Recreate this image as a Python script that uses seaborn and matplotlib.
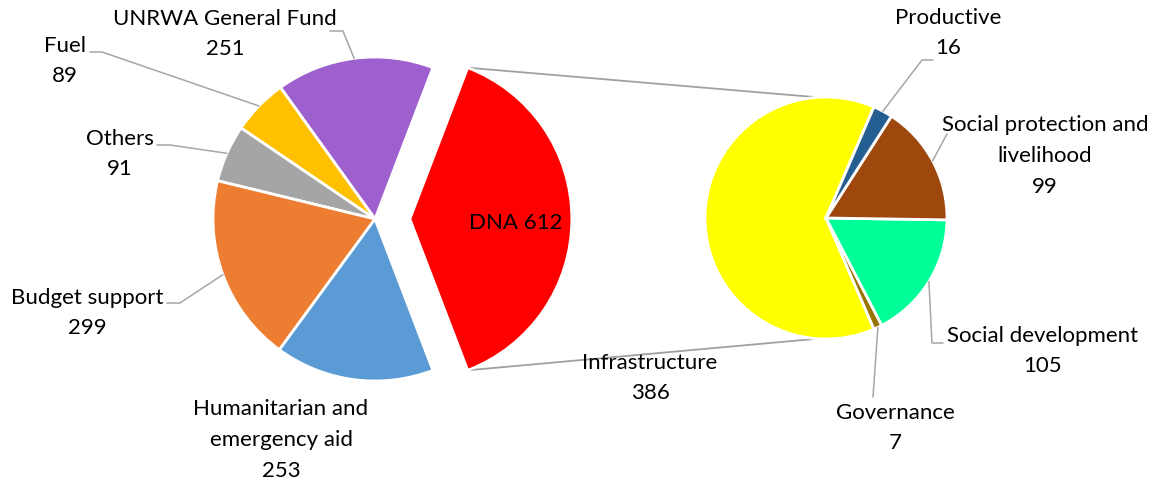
import numpy as np
import matplotlib
matplotlib.use("Agg")
import matplotlib.pyplot as plt
import seaborn as sns

# Funding by channel (main pie)
main_names = ["DNA", "UNRWA General Fund", "Fuel", "Others", "Budget support",
              "Humanitarian and\nemergency aid"]
main_values = [612, 251, 89, 91, 299, 253]
main_colors = ["#FF0000", "#9E60CE", "#FFC000", "#A5A5A5", "#ED7D31", "#5B9BD5"]

# Breakdown of the DNA slice (secondary pie)
dna_names = ["Infrastructure", "Governance", "Social development",
             "Social protection and\nlivelihood", "Productive"]
dna_values = [386, 7, 105, 99, 16]
dna_colors = ["#FFFF00", "#997300", "#00FF99", "#9E480E", "#255E91"]

W, H = 1172, 485
sns.set_theme(style="white")
plt.rcParams["font.family"] = ["Lato", "DejaVu Sans"]

fig = plt.figure(figsize=(W / 100, H / 100), dpi=100)
ax = fig.add_axes([0, 0, 1, 1])


def px(x, y):
    """Screen-style (y down) position to axes data coordinates."""
    return x, H - y


# geometry of the two pies
c1, r1 = px(375, 220), 162
c2, r2 = px(826, 219), 121
dna_offset = 0.215 * r1          # explode distance in data units

start1 = -360 * main_values[0] / sum(main_values) / 2
start2 = 180 - 360 * dna_values[0] / sum(dna_values) / 2

wprops = dict(edgecolor="white", linewidth=2)
ax.pie(main_values, colors=main_colors, startangle=start1, counterclock=True,
       center=c1, radius=r1, explode=[dna_offset] + [0] * 5,
       wedgeprops=wprops, frame=True)
ax.pie(dna_values, colors=dna_colors, startangle=start2, counterclock=True,
       center=c2, radius=r2, wedgeprops=wprops, frame=True)


def mid_angles(values, start):
    v = np.asarray(values, float)
    edges = start + 360 * np.concatenate([[0], np.cumsum(v)]) / v.sum()
    return edges, (edges[:-1] + edges[1:]) / 2


edges1, mids1 = mid_angles(main_values, start1)
edges2, mids2 = mid_angles(dna_values, start2)

# connector lines from the exploded DNA wedge to the secondary pie
apex = (c1[0] + dna_offset, c1[1])
line_col = "#A0A0A0"
for a_dna, a_sec in [(edges1[1], 94), (edges1[0], -94)]:
    p0 = (apex[0] + r1 * np.cos(np.radians(a_dna)), apex[1] + r1 * np.sin(np.radians(a_dna)))
    p1 = (c2[0] + r2 * np.cos(np.radians(a_sec)), c2[1] + r2 * np.sin(np.radians(a_sec)))
    ax.plot([p0[0], p1[0]], [p0[1], p1[1]], color=line_col, lw=1.3, zorder=0.5)

fs = 16
lead_col = "#A6A6A6"

# label layout: text centre, leader points on the label side
main_layout = [
    ((516, 223), None),
    ((225, 34), [(330, 32), (343, 32)]),
    ((65, 61), [(90, 53), (102, 53)]),
    ((120, 154), [(157, 146), (170, 146)]),
    ((87, 313), [(167, 304), (180, 304)]),
    ((281, 440), None),
]
dna_layout = [
    ((650, 378), None),
    ((895, 428), [(873, 398)]),
    ((1043, 351), [(943, 344), (932, 344)]),
    ((1045, 156), [(947, 135)]),
    ((948, 33), [(933, 61), (922, 61)]),
]


def draw_labels(names, values, layout, mids, center, radius, inner_first=False):
    for i, (name, val, (pos, lead), ang) in enumerate(zip(names, values, layout, mids)):
        if inner_first and i == 0:
            txt = f"{name} {val}"
        else:
            txt = f"{name}\n{val}"
        x, y = px(*pos)
        ax.text(x, y, txt, ha="center", va="center", fontsize=fs,
                color="#000000", linespacing=1.66, zorder=5)
        if lead:
            pts = [px(*p) for p in lead]
            tip = (center[0] + radius * np.cos(np.radians(ang)),
                   center[1] + radius * np.sin(np.radians(ang)))
            pts.append(tip)
            xs, ys = zip(*pts)
            ax.plot(xs, ys, color=lead_col, lw=1.1, zorder=4)


draw_labels(main_names, main_values, main_layout, mids1, c1, r1, inner_first=True)
draw_labels(dna_names, dna_values, dna_layout, mids2, c2, r2)

ax.set_xlim(0, W)
ax.set_ylim(0, H)
ax.set_aspect("equal")
ax.axis("off")
fig.savefig("out.png", dpi=100, facecolor="white")
